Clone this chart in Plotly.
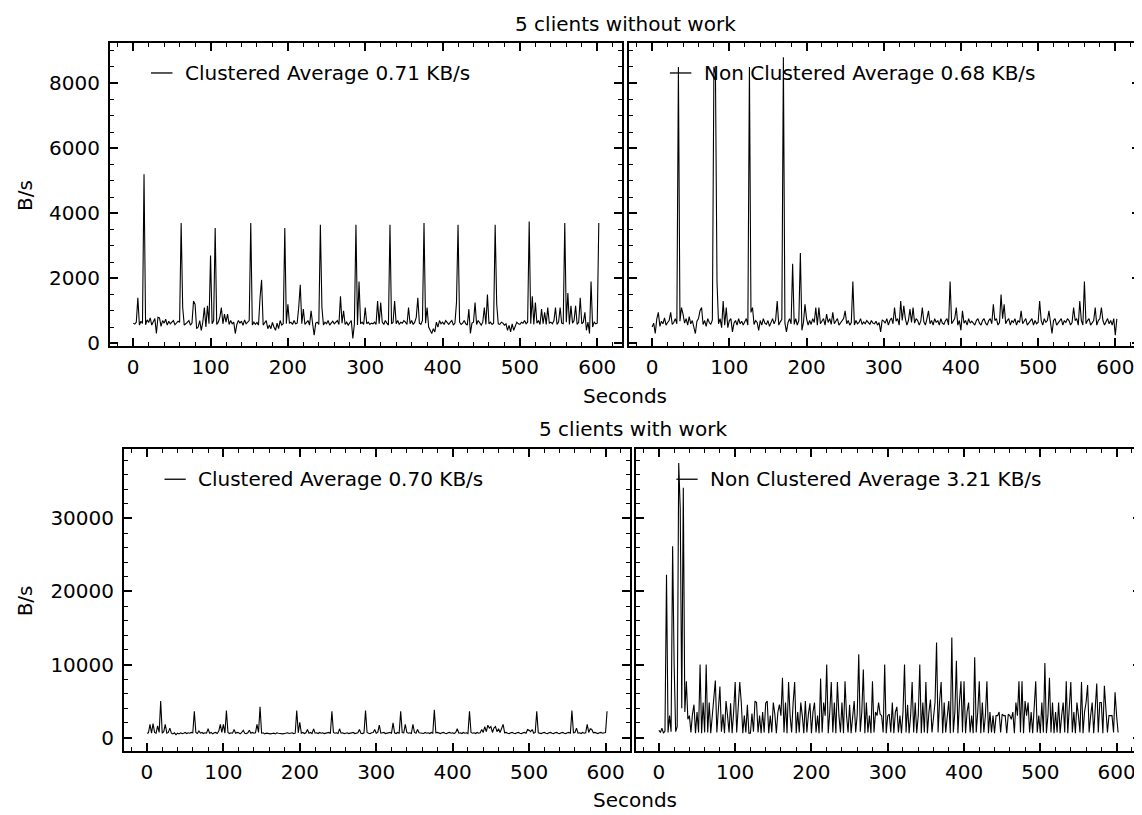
import plotly.graph_objects as go

# time grid (seconds), one sample every 2 s
seconds = list(range(0, 604, 2))

clustered_nowork = [
    620, 590, 650, 1400, 560, 680, 610, 5200, 570, 720,
    640, 780, 560, 690, 760, 300, 800, 780, 520, 700,
    620, 740, 560, 680, 600, 650, 700, 570, 620, 680,
    650, 3700, 1100, 560, 600, 640, 700, 560, 620, 1300,
    1200, 450, 500, 700, 400, 650, 1100, 500, 1150, 600,
    2700, 600, 700, 3550, 580, 650, 800, 1100, 600, 900,
    650, 900, 580, 700, 600, 650, 300, 580, 700, 620,
    680, 550, 720, 600, 650, 700, 3700, 560, 650, 580,
    640, 560, 1400, 1950, 560, 620, 700, 450, 560, 450,
    640, 500, 400, 620, 450, 700, 560, 600, 3550, 600,
    1200, 620, 650, 580, 700, 600, 620, 1100, 1800, 600,
    1050, 580, 650, 700, 560, 1000, 600, 250, 620, 650,
    580, 3650, 1100, 560, 650, 600, 700, 560, 620, 680,
    600, 650, 700, 580, 1450, 620, 1000, 580, 650, 560,
    620, 700, 150, 600, 3650, 560, 1900, 600, 650, 580,
    1100, 600, 650, 580, 620, 600, 650, 580, 1300, 600,
    1250, 650, 580, 700, 620, 560, 3650, 600, 650, 1300,
    600, 700, 580, 650, 620, 700, 650, 580, 1100, 600,
    700, 580, 650, 800, 1400, 620, 580, 700, 3700, 620,
    1100, 500, 400, 300, 450, 350, 650, 500, 700, 600,
    650, 580, 700, 620, 580, 650, 700, 560, 620, 1250,
    3650, 650, 580, 620, 700, 600, 560, 1050, 300, 620,
    650, 1250, 580, 700, 620, 560, 650, 1100, 580, 1500,
    600, 650, 580, 620, 3650, 1200, 600, 580, 650, 620,
    560, 600, 400, 550, 350, 600, 400, 550, 650, 600,
    580, 650, 620, 700, 600, 650, 3750, 600, 1450, 580,
    1250, 620, 700, 580, 1050, 600, 950, 580, 1100, 620,
    650, 600, 700, 1100, 580, 650, 1100, 620, 600, 3700,
    650, 1550, 580, 1150, 620, 700, 1150, 580, 650, 1400,
    600, 650, 950, 400, 650, 300, 1900, 500, 650, 600,
    620, 3700,
]

nonclustered_nowork = [
    500, 620, 300, 750, 950, 520, 680, 600, 780, 560,
    640, 700, 950, 580, 640, 760, 600, 8500, 680, 1100,
    900, 620, 760, 560, 820, 600, 700, 520, 300, 680,
    760, 1000, 1100, 580, 700, 520, 760, 640, 580, 720,
    8500, 8300, 1900, 600, 760, 480, 1300, 560, 1100, 480,
    700, 760, 350, 620, 700, 560, 760, 600, 680, 560,
    680, 760, 560, 8500, 950, 1100, 580, 700, 640, 400,
    700, 560, 760, 620, 580, 700, 520, 660, 760, 600,
    720, 1300, 560, 660, 740, 8800, 620, 350, 640, 760,
    600, 2450, 580, 760, 560, 700, 2780, 400, 640, 1200,
    760, 560, 700, 580, 760, 640, 1100, 560, 1100, 600,
    700, 760, 560, 900, 640, 760, 580, 950, 600, 700,
    760, 560, 640, 700, 760, 1000, 600, 700, 560, 640,
    1900, 560, 700, 600, 640, 760, 580, 660, 600, 700,
    640, 580, 700, 620, 600, 680, 560, 640, 350, 720,
    680, 620, 760, 560, 700, 780, 600, 1100, 680, 760,
    560, 1300, 700, 1150, 760, 560, 700, 1050, 640, 1100,
    620, 760, 700, 560, 680, 1100, 660, 560, 760, 1000,
    600, 700, 560, 760, 640, 700, 560, 760, 620, 580,
    700, 760, 560, 1900, 600, 700, 760, 1100, 560, 700,
    400, 1000, 620, 700, 560, 760, 620, 680, 600, 560,
    700, 760, 620, 560, 700, 760, 620, 560, 700, 760,
    600, 1200, 700, 760, 560, 640, 1500, 760, 1200, 600,
    700, 760, 560, 700, 640, 760, 560, 700, 640, 1000,
    600, 700, 760, 560, 640, 700, 760, 560, 700, 600,
    640, 1300, 700, 560, 760, 640, 700, 1000, 560, 300,
    700, 760, 560, 640, 700, 760, 560, 700, 640, 760,
    700, 560, 640, 1100, 700, 760, 560, 1300, 700, 560,
    1900, 600, 700, 760, 560, 640, 700, 1100, 560, 700,
    760, 1100, 700, 560, 640, 760, 600, 700, 560, 760,
    250, 750,
]

clustered_work = [
    600, 650, 1800, 600, 1900, 700, 600, 1600, 700, 5000,
    600, 800, 1800, 600, 700, 1300, 600, 500, 650, 400,
    600, 500, 650, 550, 600, 700, 550, 650, 600, 700,
    650, 3600, 700, 550, 900, 600, 700, 550, 650, 600,
    1200, 600, 700, 500, 650, 700, 550, 900, 1800, 700,
    1800, 600, 3700, 700, 550, 650, 600, 1100, 600, 700,
    650, 500, 700, 1000, 600, 550, 650, 1000, 600, 700,
    600, 650, 1800, 700, 4200, 600, 650, 500, 600, 550,
    600, 500, 550, 600, 500, 650, 600, 550, 600, 500,
    550, 600, 650, 550, 600, 650, 550, 600, 3700, 650,
    2100, 600, 700, 550, 650, 1100, 600, 700, 550, 1200,
    600, 650, 550, 700, 600, 650, 550, 600, 650, 700,
    550, 3600, 700, 600, 650, 550, 1200, 600, 650, 550,
    600, 650, 550, 600, 650, 700, 550, 600, 650, 1100,
    600, 550, 650, 3700, 700, 600, 550, 650, 700, 1100,
    600, 700, 1700, 600, 650, 700, 550, 600, 650, 700,
    600, 2000, 650, 550, 700, 600, 3600, 700, 650, 1800,
    700, 600, 650, 550, 1800, 700, 600, 1100, 650, 600,
    650, 550, 700, 600, 650, 550, 700, 600, 3800, 650,
    700, 600, 550, 650, 700, 600, 550, 650, 700, 600,
    650, 550, 700, 1200, 600, 650, 550, 700, 600, 650,
    550, 3600, 700, 600, 650, 550, 700, 600, 650, 1100,
    700, 1500, 800, 1700, 1300, 1500, 700, 1300, 1500, 800,
    1200, 700, 1300, 1800, 650, 700, 600, 550, 650, 700,
    600, 550, 650, 700, 600, 550, 650, 700, 600, 1100,
    1000, 800, 1100, 600, 700, 3600, 650, 600, 550, 650,
    700, 600, 550, 650, 700, 600, 550, 650, 700, 600,
    550, 650, 700, 600, 550, 650, 700, 600, 3700, 650,
    700, 1300, 600, 650, 550, 700, 600, 650, 1800, 700,
    1200, 1100, 650, 700, 600, 550, 650, 700, 600, 650,
    700, 3600,
]

nonclustered_work = [
    1000, 700, 1300, 600, 900, 22300, 700, 3000, 800, 26200,
    10000, 800, 1500, 37600, 31300, 4000, 34200, 3500, 7700, 2500,
    3000, 700, 3200, 4500, 600, 3500, 700, 10000, 600, 4800,
    700, 10000, 700, 4800, 600, 3000, 5200, 7800, 700, 4500,
    7000, 800, 3200, 600, 5000, 3000, 700, 4700, 600, 3500,
    7600, 700, 3500, 7600, 4800, 600, 3000, 700, 4500, 600,
    600, 3300, 800, 5000, 4800, 700, 3000, 600, 3500, 700,
    4700, 5000, 600, 3000, 700, 4800, 3200, 600, 3500, 4500,
    3000, 8200, 700, 4800, 600, 7600, 3000, 700, 4800, 7600,
    600, 3500, 700, 4800, 3000, 600, 5000, 700, 3200, 4700,
    600, 3500, 4800, 700, 3000, 600, 8100, 700, 4800, 3000,
    10000, 600, 3500, 7600, 700, 4800, 600, 7600, 3000, 700,
    4800, 600, 7700, 3000, 700, 4500, 600, 3500, 5000, 700,
    3200, 11400, 800, 3500, 9300, 600, 4800, 700, 3000, 600,
    7700, 700, 3500, 3000, 4800, 3200, 3000, 700, 10000, 600,
    3000, 3200, 700, 4800, 600, 3500, 4200, 700, 3000, 600,
    3500, 10000, 700, 4500, 600, 3000, 7600, 700, 4800, 600,
    3000, 10000, 600, 4800, 700, 7600, 600, 3500, 5200, 700,
    3000, 4800, 13000, 700, 5000, 7600, 600, 4800, 700, 3500,
    5000, 600, 13700, 700, 3500, 10500, 600, 4800, 7700, 700,
    7700, 600, 3500, 4800, 700, 3000, 600, 11000, 700, 3500,
    7700, 600, 4800, 700, 3000, 7700, 600, 3500, 700, 3000,
    600, 3000, 3000, 3500, 700, 3200, 3000, 3000, 600, 3200,
    3000, 2500, 3500, 600, 4800, 3000, 7700, 700, 7700, 600,
    5000, 3000, 4800, 700, 3500, 600, 4800, 7700, 700, 3000,
    600, 4800, 700, 10200, 600, 3000, 8200, 700, 4800, 600,
    3500, 700, 4800, 600, 3000, 4800, 700, 7700, 600, 4800,
    7600, 700, 3500, 600, 4800, 3000, 700, 7600, 600, 3500,
    4800, 7200, 700, 3000, 4800, 600, 3500, 7400, 700, 4800,
    4800, 600, 7100, 3000, 700, 3000, 3000, 3000, 700, 6200,
    3000, 700,
]

panel_titles = ["5 clients without work", "5 clients with work"]
legend_texts = [
    "Clustered Average 0.71 KB/s",
    "Non Clustered Average 0.68 KB/s",
    "Clustered Average 0.70 KB/s",
    "Non Clustered Average 3.21 KB/s",
]

W, H = 1142, 815
FONT = "DejaVu Sans"
FS = 20


def px_x(p):
    return p / W


def px_y(p):
    return 1 - p / H


panels = [
    # (x-domain px, y-domain px, data, y range, y dtick, y minor, show y labels)
    ((102, 614), (35, 342), clustered_nowork, [-90, 9250], 2000, 500, True),
    ((621, 1132), (35, 342), nonclustered_nowork, [-90, 9250], 2000, 500, False),
    ((116, 622), (446, 751), clustered_work, [-1800, 39500], 10000, 2000, True),
    ((628, 1133), (446, 751), nonclustered_work, [-1800, 39500], 10000, 2000, False),
]

fig = go.Figure()
layout = {}
for i, (xd, yd, data, yr, ydt, ymin, showy) in enumerate(panels):
    n = i + 1
    sfx = "" if n == 1 else str(n)
    fig.add_trace(go.Scatter(
        x=seconds, y=data, mode="lines",
        line=dict(color="black", width=1.1),
        xaxis=f"x{sfx}", yaxis=f"y{sfx}",
        showlegend=False, hoverinfo="skip",
    ))
    layout[f"xaxis{sfx}"] = dict(
        domain=[px_x(xd[0]), px_x(xd[1])], anchor=f"y{sfx}",
        range=[-30, 632], tick0=0, dtick=100,
        ticks="inside", ticklen=8, tickwidth=1.5, tickcolor="black",
        minor=dict(dtick=20, ticks="inside", ticklen=4, tickwidth=1, tickcolor="black"),
        showline=True, linecolor="black", linewidth=2, mirror="ticks",
        showgrid=False, zeroline=False,
        tickfont=dict(family=FONT, size=FS, color="black"),
        ticklabelstandoff=2,
    )
    layout[f"yaxis{sfx}"] = dict(
        domain=[px_y(yd[1]), px_y(yd[0])], anchor=f"x{sfx}",
        range=yr, tick0=0, dtick=ydt, tickformat="d",
        ticks="inside", ticklen=8, tickwidth=1.5, tickcolor="black",
        minor=dict(dtick=ymin, ticks="inside", ticklen=4, tickwidth=1, tickcolor="black"),
        showline=True, linecolor="black", linewidth=2, mirror="ticks",
        showgrid=False, zeroline=False, showticklabels=showy,
        tickfont=dict(family=FONT, size=FS, color="black"),
        ticklabelstandoff=4,
    )

fig.update_layout(**layout)

shapes = []
annotations = []
for i, txt in enumerate(legend_texts):
    n = i + 1
    sfx = "" if n == 1 else str(n)
    xr = f"x{sfx} domain"
    yr_ = f"y{sfx} domain"
    shapes.append(dict(type="line", xref=xr, yref=yr_, x0=0.08, x1=0.122, y0=0.9, y1=0.9,
                       line=dict(color="black", width=1.3)))
    annotations.append(dict(text=txt, xref=xr, yref=yr_, x=0.142, y=0.9,
                            xanchor="left", yanchor="middle", showarrow=False,
                            font=dict(family=FONT, size=FS, color="black")))

for txt, x, y in [(panel_titles[0], 617, 16), (panel_titles[1], 625, 426),
                  ("Seconds", 617, 392), ("Seconds", 627, 801)]:
    annotations.append(dict(text=txt, xref="paper", yref="paper", x=px_x(x), y=px_y(y),
                            xanchor="center", yanchor="middle", showarrow=False,
                            font=dict(family=FONT, size=FS, color="black")))
for y in (190, 600):
    annotations.append(dict(text="B/s", xref="paper", yref="paper", x=px_x(17), y=px_y(y),
                            xanchor="center", yanchor="middle", showarrow=False, textangle=-90,
                            font=dict(family=FONT, size=FS, color="black")))

fig.update_layout(
    width=W, height=H, margin=dict(l=0, r=0, t=0, b=0),
    paper_bgcolor="white", plot_bgcolor="white",
    shapes=shapes, annotations=annotations,
    font=dict(family=FONT, size=FS, color="black"),
)

fig.write_html("out.html")
